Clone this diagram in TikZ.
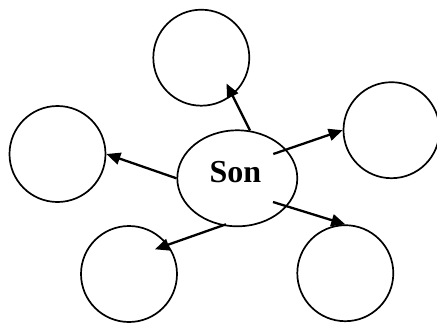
\documentclass[tikz,border=0pt]{standalone}
\usepackage{fontspec}
\setmainfont{Liberation Serif}
\usetikzlibrary{shapes.geometric,arrows.meta}
\begin{document}
\begin{tikzpicture}[x=1pt,y=-1pt,
  ring/.style={draw,circle,line width=1.7pt,minimum size=96pt,inner sep=0pt},
  oval/.style={draw,ellipse,line width=1.7pt,minimum width=120pt,minimum height=96pt,inner sep=0pt},
  link/.style={line width=2.3pt,-{Triangle[length=14pt,width=12pt]}}]
\useasboundingbox (0,0) rectangle (437,322);
\node[oval] (son) at (237.3,178.3) {};
\node[font=\bfseries\fontsize{32}{36}\selectfont,anchor=base,inner sep=0pt] (sonlabel) at (235.5,182.5) {Son};
\node[ring] (top) at (201.3,57.7) {};
\node[ring] (right) at (391.5,130.2) {};
\node[ring] (left) at (57.5,154) {};
\node[ring] (bl) at (129,274) {};
\node[ring] (br) at (345.3,273.2) {};
\coordinate (s1) at (250,130.5);
\coordinate (t1) at (226.5,83.5);
\coordinate (s2) at (273.3,154);
\coordinate (s3) at (273,202);
\coordinate (s5) at (226,224.3);
\coordinate (t5) at (155,249.3);
\draw[link] (s1) -- (t1);
\draw[link] (s2) -- (right.west);
\draw[link] (s3) -- (br.north);
\draw[link] (son.west) -- (left.east);
\draw[link] (s5) -- (t5);
\end{tikzpicture}
\end{document}
